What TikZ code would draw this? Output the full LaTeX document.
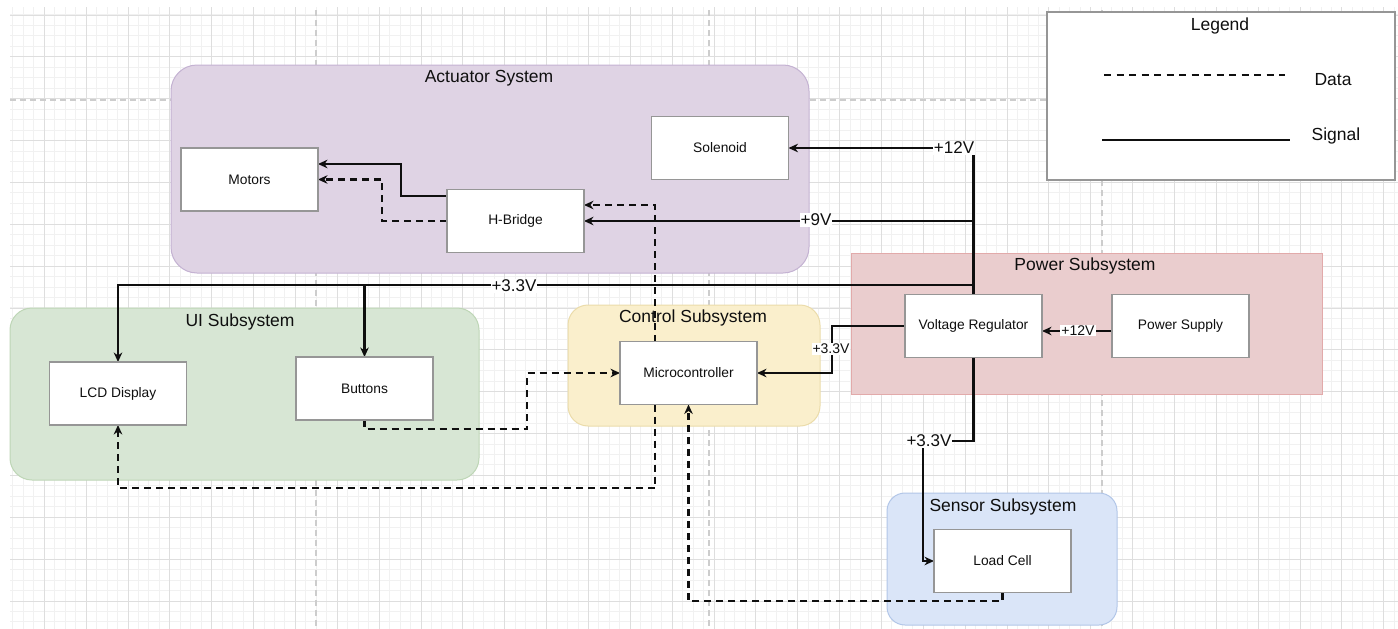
\documentclass[tikz,border=0pt]{standalone}
\usepackage{fontspec}
\setmainfont{Liberation Sans}
\usetikzlibrary{arrows.meta}

\definecolor{gridminor}{RGB}{241,241,241}
\definecolor{gridmajor}{RGB}{222,222,222}
\definecolor{pagebreak}{RGB}{205,205,205}
\definecolor{actfill}{RGB}{223,211,228}
\definecolor{actline}{RGB}{196,178,210}
\definecolor{uifill}{RGB}{215,230,212}
\definecolor{uiline}{RGB}{190,214,182}
\definecolor{ctrlfill}{RGB}{250,239,204}
\definecolor{ctrlline}{RGB}{235,220,170}
\definecolor{pwrfill}{RGB}{234,205,206}
\definecolor{pwrline}{RGB}{226,170,170}
\definecolor{senfill}{RGB}{218,229,248}
\definecolor{senline}{RGB}{178,198,232}
\definecolor{boxline}{RGB}{150,150,150}
\definecolor{ink}{RGB}{15,15,15}

\tikzset{
  container/.style={rectangle, inner sep=0pt, outer sep=0pt, line width=1pt},
  title/.style={font=\fontsize{17.5}{20}\selectfont, text=ink, inner sep=0pt},
  block/.style={rectangle, draw=boxline, line width=1.4pt, fill=white,
    minimum width=137pt, minimum height=63pt, inner sep=0pt, outer sep=0pt,
    font=\fontsize{13.8}{16}\selectfont, text=ink},
  sig/.style={line width=2.4pt, draw=ink, -{Stealth[length=9.5pt,width=8.5pt,inset=3pt]}},
  dat/.style={sig, dash pattern=on 7pt off 5pt},
  vlab/.style={fill=white, inner sep=1pt, font=\fontsize{17}{19}\selectfont, text=ink},
  vlabs/.style={fill=white, inner sep=1pt, font=\fontsize{14}{16}\selectfont, text=ink},
  legtext/.style={font=\fontsize{17.5}{20}\selectfont, text=ink, inner sep=0pt},
}

\begin{document}
\begin{tikzpicture}[x=1pt,y=-1pt]
\useasboundingbox[fill=white] (0,0) rectangle (1398,629);

% drawing-area grid
\begin{scope}
  \clip (10,7) rectangle (1398,629);
  \draw[gridminor, line width=1pt]
    \foreach \i in {0,...,133} { ({12.9+10.465*\i},0) -- ++(0,629) }
    \foreach \j in {0,...,60} { (0,{4.5+10.465*\j}) -- ++(1398,0) };
  \draw[gridmajor, line width=1pt]
    \foreach \i in {0,...,33} { ({44.3+41.86*\i},0) -- ++(0,629) }
    \foreach \j in {0,...,15} { (0,{15+41.86*\j}) -- ++(1398,0) };
  \draw[pagebreak, line width=1.2pt, dash pattern=on 6pt off 4pt]
    (316,0) -- (316,629) (709,0) -- (709,629) (1102,0) -- (1102,629)
    (0,100) -- (1398,100);
\end{scope}

% subsystem containers
\node[container, fill=actfill, draw=actline, rounded corners=26pt,
  minimum width=638pt, minimum height=208pt] (act) at (490,169) {};
\node[container, fill=uifill, draw=uiline, rounded corners=22pt,
  minimum width=469pt, minimum height=172pt] (ui) at (244.5,394) {};
\node[container, fill=ctrlfill, draw=ctrlline, rounded corners=20pt,
  minimum width=252pt, minimum height=121pt] (ctrl) at (694,365.5) {};
\node[container, fill=pwrfill, draw=pwrline,
  minimum width=471pt, minimum height=141pt] (pwr) at (1086.5,323.5) {};
\node[container, fill=senfill, draw=senline, rounded corners=18pt,
  minimum width=230pt, minimum height=132pt] (sen) at (1002,559) {};

\node[title] (actT) at (489,78) {Actuator System};
\node[title] (uiT) at (240,322) {UI Subsystem};
\node[title] (ctrlT) at (693,318) {Control Subsystem};
\node[title] (pwrT) at (1085,266) {Power Subsystem};
\node[title] (senT) at (1003,507) {Sensor Subsystem};

% block positions
\coordinate (motorsP) at (249.5,179.5);
\coordinate (hbP) at (515.5,221);
\coordinate (solP) at (720,148);
\coordinate (lcdP) at (118,393.5);
\coordinate (btnP) at (364.5,388.5);
\coordinate (mcuP) at (688.5,373);
\coordinate (vrP) at (973.5,326);
\coordinate (psP) at (1180.5,326);
\coordinate (lcP) at (1002.5,561);

% connector anchors are taken from these blocks (drawn again on top below)
\path
  (motorsP) node[block, draw=none, fill=none] (motors) {}
  (hbP) node[block, draw=none, fill=none] (hb) {}
  (solP) node[block, draw=none, fill=none] (sol) {}
  (lcdP) node[block, draw=none, fill=none] (lcd) {}
  (btnP) node[block, draw=none, fill=none] (btn) {}
  (mcuP) node[block, draw=none, fill=none] (mcu) {}
  (vrP) node[block, draw=none, fill=none] (vr) {}
  (psP) node[block, draw=none, fill=none] (ps) {}
  (lcP) node[block, draw=none, fill=none] (lc) {};

% data links
\draw[dat] (hb.west) -| (382,179.5) -- (motors.east);
\draw[dat] (mcu.north -| 655,0) |- ([yshift=16pt]hb.east);
\draw[dat] (mcu.south -| 655,0) -- (655,488) -| (lcd.south);
\draw[dat] (btn.south) |- (527,429) |- (mcu.west);
\draw[dat] (lc.south) |- (688.5,601) -- (mcu.south);

% supply rails
\draw[sig] ([yshift=25pt]hb.west) -| (401,164) -- ([yshift=15.5pt]motors.east);
\draw[sig] (vr.north) |- (sol.east);
\draw[sig] (vr.north |- hb.east) -- (hb.east);
\draw[sig] (vr.north |- 0,285) -| (lcd.north);
\draw[sig] (btn.north |- 0,285) -- (btn.north);
\draw[sig] (vr.west) -| (832,373) -- (mcu.east);
\draw[sig] ([yshift=-5pt]ps.west) -- ([yshift=-5pt]vr.east);
\draw[sig] (vr.south) |- (923,441) |- (lc.west);

% blocks
\node[block] (motorsB) at (motorsP) {Motors};
\node[block] (hbB) at (hbP) {H-Bridge};
\node[block] (solB) at (solP) {Solenoid};
\node[block] (lcdB) at (lcdP) {LCD Display};
\node[block] (btnB) at (btnP) {Buttons};
\node[block] (mcuB) at (mcuP) {Microcontroller};
\node[block] (vrB) at (vrP) {Voltage Regulator};
\node[block] (psB) at (psP) {Power Supply};
\node[block] (lcB) at (lcP) {Load Cell};

% rail labels
\node[vlab] (l12) at (954,148) {+12V};
\node[vlab] (l9) at (816,220) {+9V};
\node[vlab] (l33a) at (514,286) {+3.3V};
\node[vlabs] (l33b) at (831,349) {+3.3V};
\node[vlabs] (l12b) at (1078,330.5) {+12V};
\node[vlab] (l33c) at (929,441) {+3.3V};

% legend
\node[rectangle, draw=boxline, line width=1.2pt, fill=white, inner sep=0pt,
  minimum width=348pt, minimum height=168pt] (leg) at (1221,96) {};
\node[legtext] (legT) at (1220,26) {Legend};
\coordinate (dA) at (1104,75);
\coordinate (dB) at (1285,75);
\coordinate (sA) at (1102,140);
\coordinate (sB) at (1290,140);
\draw[line width=2.2pt, draw=ink, dash pattern=on 7pt off 5.5pt] (dA) -- (dB);
\draw[line width=2.5pt, draw=ink] (sA) -- (sB);
\node[legtext] (legD) at (1333,80) {Data};
\node[legtext] (legS) at (1336,136) {Signal};
\end{tikzpicture}
\end{document}
